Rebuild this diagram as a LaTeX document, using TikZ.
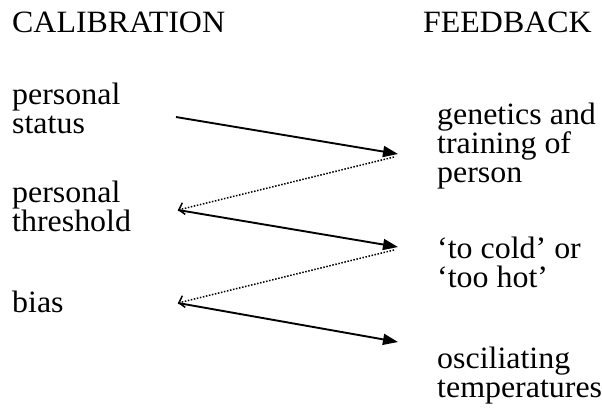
\documentclass[tikz,border=0pt]{standalone}
\usepackage{fontspec}
\setmainfont{Liberation Serif}[FakeStretch=1.03]
\usetikzlibrary{arrows.meta}

\tikzstyle{label} = [anchor=base west, inner sep=0pt, align=left, font=\fontsize{31}{29}\selectfont]
\tikzstyle{forward} = [line width=1.9pt, -{Triangle[length=15pt,width=11pt]}]
\tikzstyle{backward} = [line width=1.5pt, dash pattern=on 1.5pt off 1.6pt, -{Straight Barb[length=5pt,width=12pt]}]

\begin{document}
\begin{tikzpicture}[x=1pt, y=-1pt]
	\useasboundingbox (0,0) rectangle (602,408);
	% Place nodes (base = last line)
	\node [label] (Calibration) at (12,32) {CALIBRATION};
	\node [label] (Feedback) at (423,32) {FEEDBACK};
	\node [label] (Status) at (12,133) {personal\\status};
	\node [label] (Threshold) at (12,231) {personal\\threshold};
	\node [label] (Bias) at (12,312) {bias};
	\node [label] (Genetics) at (437,182) {genetics and\\training of\\person};
	\node [label] (ColdHot) at (437,287) {`to cold' or\\`too hot'};
	\node [label] (Oscillating) at (437,397) {osciliating\\temperatures};
	% Arrow ends
	\coordinate (StatusOut) at (176,117);
	\coordinate (GeneticsIn) at (398,154);
	\coordinate (GeneticsOut) at (394,157);
	\coordinate (ThresholdIn) at (178,210);
	\coordinate (ColdHotIn) at (398,247);
	\coordinate (ColdHotOut) at (394,250);
	\coordinate (BiasIn) at (178,303);
	\coordinate (OscillatingIn) at (398,342);
	% Draw edges
	\draw [forward] (StatusOut) -- (GeneticsIn);
	\draw [backward] (GeneticsOut) -- (ThresholdIn);
	\draw [forward] (ThresholdIn) -- (ColdHotIn);
	\draw [backward] (ColdHotOut) -- (BiasIn);
	\draw [forward] (BiasIn) -- (OscillatingIn);
\end{tikzpicture}
\end{document}
